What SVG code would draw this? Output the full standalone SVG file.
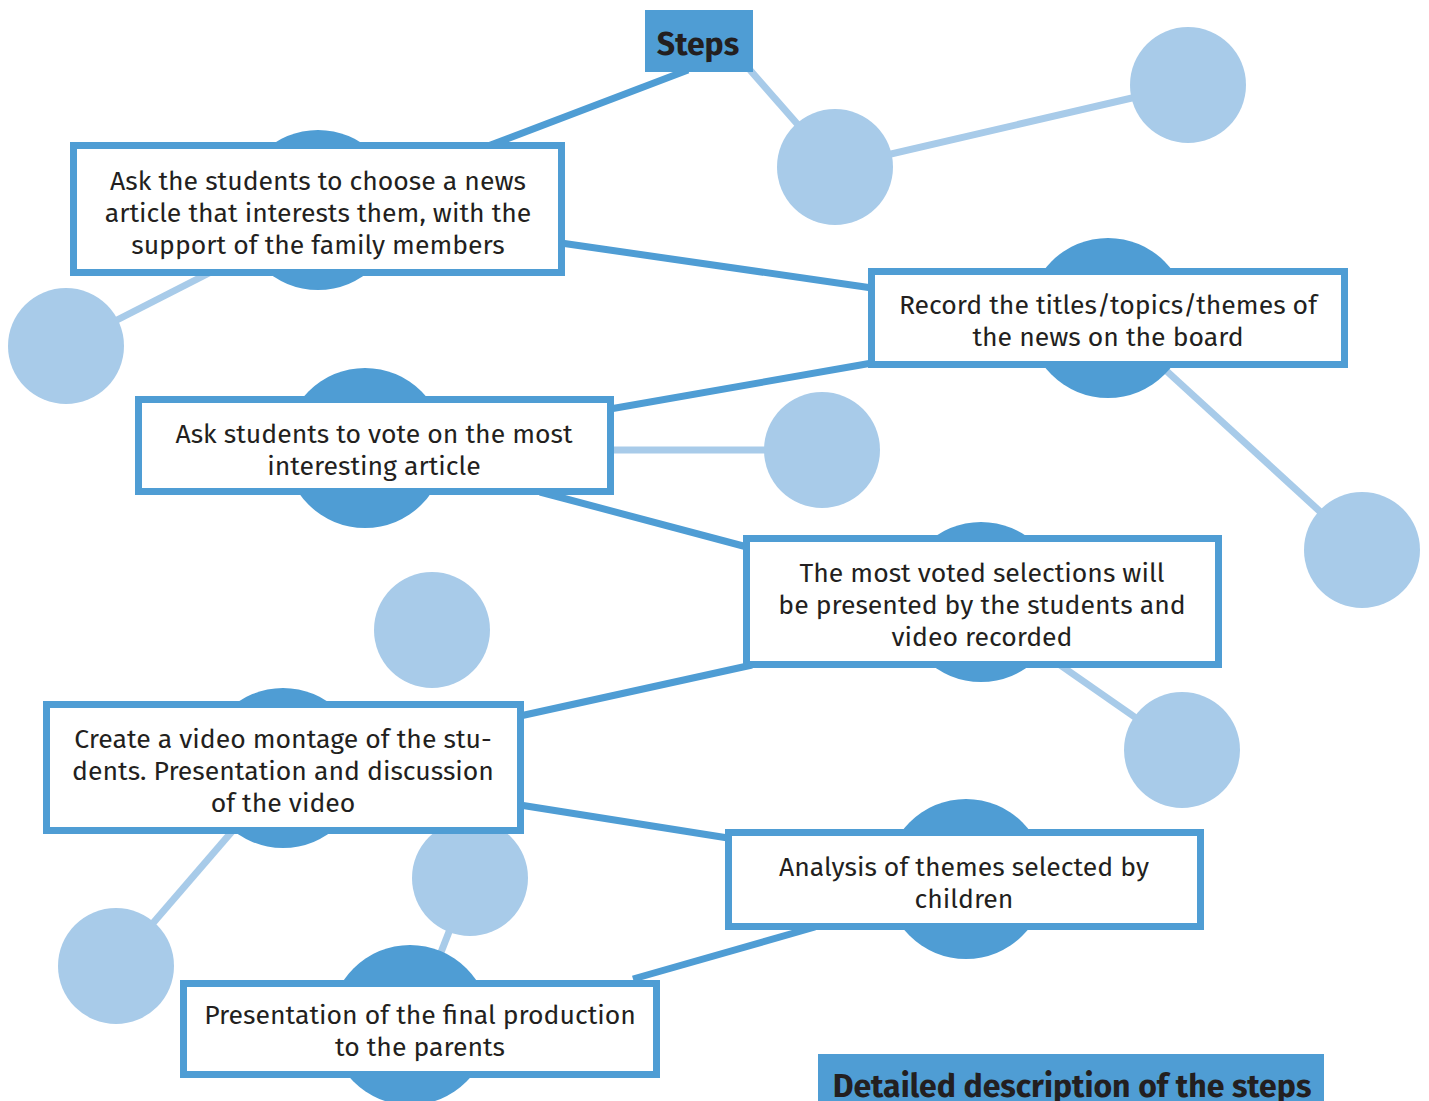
<svg xmlns="http://www.w3.org/2000/svg" width="1429" height="1101" viewBox="0 0 1429 1101">
  <style>
    .bg { fill: #ffffff; }
    .link { fill: none; stroke: #4f9dd4; stroke-width: 7; }
    .link-soft { fill: none; stroke: #a8cbe9; stroke-width: 7; }
    .dot { fill: #a8cbe9; }
    .halo { fill: #4f9dd4; }
    .card { fill: #ffffff; stroke: #4f9dd4; stroke-width: 7; }
    .banner { fill: #4f9dd4; }
    .label { font-family: "Fira Sans", Roboto, "Noto Sans", sans-serif; font-size: 26.6px; fill: #231f20; text-anchor: middle; }
    .title { font-family: "Fira Sans", Roboto, "Noto Sans", sans-serif; font-size: 32px; font-weight: bold; fill: #231f20; text-anchor: middle; }
  </style>
  <rect class="bg" x="0" y="0" width="1429" height="1101"/>

  <!-- connectors -->
  <g id="connectors">
    <line class="link-soft" x1="750" y1="70" x2="835" y2="167"/>
    <line class="link-soft" x1="835" y1="167" x2="1188" y2="85"/>
    <line class="link-soft" x1="215" y1="270" x2="66" y2="346"/>
    <line class="link-soft" x1="610" y1="450" x2="822" y2="450"/>
    <line class="link-soft" x1="1160" y1="365" x2="1362" y2="550"/>
    <line class="link-soft" x1="1060" y1="665" x2="1182" y2="750"/>
    <line class="link-soft" x1="235" y1="828" x2="116" y2="966"/>
    <line class="link-soft" x1="470" y1="878" x2="438" y2="960"/>

    <line class="link" x1="688" y1="70" x2="488" y2="146"/>
    <line class="link" x1="561" y1="243" x2="872" y2="288"/>
    <line class="link" x1="872" y1="363" x2="610" y2="409"/>
    <line class="link" x1="540" y1="492" x2="747" y2="547"/>
    <line class="link" x1="752" y1="665" x2="520" y2="716"/>
    <line class="link" x1="520" y1="805" x2="728" y2="838"/>
    <line class="link" x1="815" y1="927" x2="633" y2="979"/>
  </g>

  <!-- free-standing bubbles -->
  <g id="bubble-1"><circle class="dot" cx="835" cy="167" r="58"/></g>
  <g id="bubble-2"><circle class="dot" cx="1188" cy="85" r="58"/></g>
  <g id="bubble-3"><circle class="dot" cx="66" cy="346" r="58"/></g>
  <g id="bubble-4"><circle class="dot" cx="822" cy="450" r="58"/></g>
  <g id="bubble-5"><circle class="dot" cx="1362" cy="550" r="58"/></g>
  <g id="bubble-6"><circle class="dot" cx="432" cy="630" r="58"/></g>
  <g id="bubble-7"><circle class="dot" cx="1182" cy="750" r="58"/></g>
  <g id="bubble-8"><circle class="dot" cx="470" cy="878" r="58"/></g>
  <g id="bubble-9"><circle class="dot" cx="116" cy="966" r="58"/></g>

  <!-- header -->
  <g id="steps">
    <rect class="banner" x="645" y="10" width="108" height="62"/>
    <text class="title" x="698" y="55">Steps</text>
  </g>

  <!-- step cards -->
  <g id="step-choose">
    <circle class="halo" cx="318" cy="210" r="80"/>
    <rect class="card" x="73.5" y="145.5" width="488" height="127"/>
    <text class="label" x="318" y="190">Ask the students to choose a news</text>
    <text class="label" x="318" y="222">article that interests them, with the</text>
    <text class="label" x="318" y="254">support of the family members</text>
  </g>

  <g id="step-record">
    <circle class="halo" cx="1108" cy="318" r="80"/>
    <rect class="card" x="871.5" y="271.5" width="473" height="93"/>
    <text class="label" x="1108" y="314">Record the titles/topics/themes of</text>
    <text class="label" x="1108" y="346">the news on the board</text>
  </g>

  <g id="step-vote">
    <circle class="halo" cx="365" cy="448" r="80"/>
    <rect class="card" x="138.5" y="399.5" width="472" height="92"/>
    <text class="label" x="374" y="443">Ask students to vote on the most</text>
    <text class="label" x="374" y="475">interesting article</text>
  </g>

  <g id="step-present">
    <circle class="halo" cx="981" cy="602" r="80"/>
    <rect class="card" x="746.5" y="538.5" width="472" height="126"/>
    <text class="label" x="982" y="582">The most voted selections will</text>
    <text class="label" x="982" y="614">be presented by the students and</text>
    <text class="label" x="982" y="646">video recorded</text>
  </g>

  <g id="step-montage">
    <circle class="halo" cx="283" cy="768" r="80"/>
    <rect class="card" x="46.5" y="704.5" width="474" height="126"/>
    <text class="label" x="283" y="748">Create a video montage of the stu-</text>
    <text class="label" x="283" y="780">dents. Presentation and discussion</text>
    <text class="label" x="283" y="812">of the video</text>
  </g>

  <g id="step-analysis">
    <circle class="halo" cx="966" cy="879" r="80"/>
    <rect class="card" x="728.5" y="832.5" width="472" height="94"/>
    <text class="label" x="964" y="876">Analysis of themes selected by</text>
    <text class="label" x="964" y="908">children</text>
  </g>

  <g id="step-final">
    <circle class="halo" cx="410" cy="1025" r="80"/>
    <rect class="card" x="183.5" y="983.5" width="473" height="91"/>
    <text class="label" x="420" y="1024">Presentation of the final production</text>
    <text class="label" x="420" y="1056">to the parents</text>
  </g>

  <!-- footer banner -->
  <g id="details">
    <rect class="banner" x="818" y="1054" width="506" height="60"/>
    <text class="title" x="1072" y="1097">Detailed description of the steps</text>
  </g>
</svg>
